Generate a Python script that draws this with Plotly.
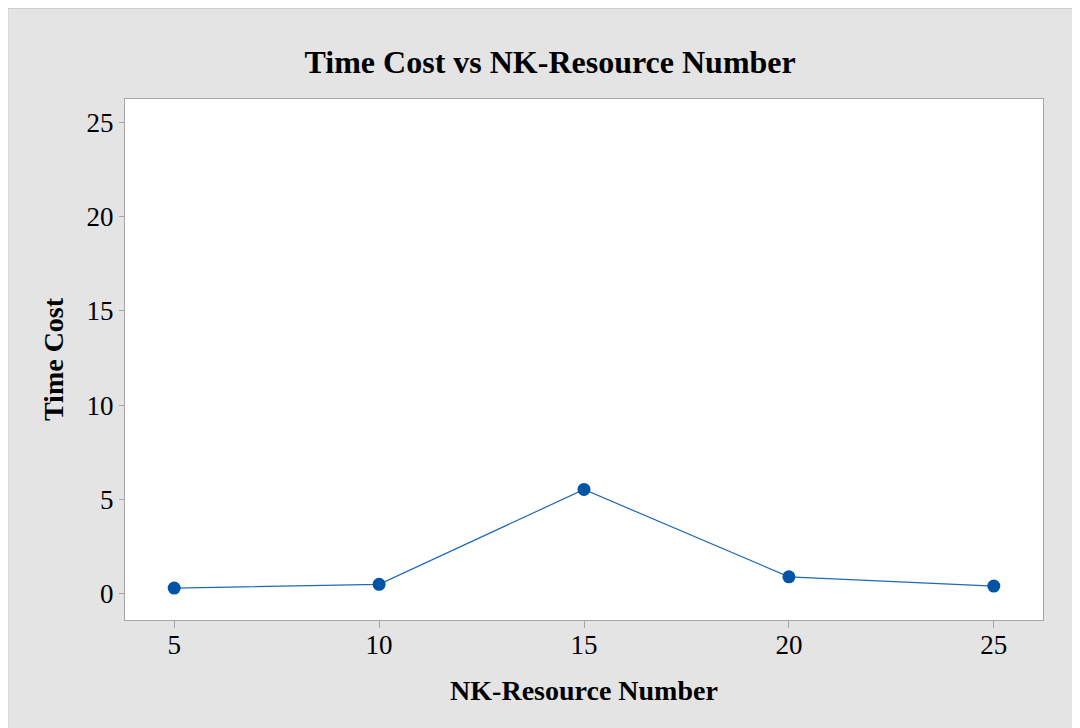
import plotly.graph_objects as go

resource_number = [5, 10, 15, 20, 25]
time_cost = [0.30, 0.50, 5.53, 0.90, 0.41]

x_ticks = [5, 10, 15, 20, 25]
y_ticks = [0, 5, 10, 15, 20, 25]

BLUE = '#0054A6'
GRAY_BG = '#e4e4e4'
AXIS_GRAY = '#a6a6a6'
SERIF = 'Liberation Serif, Times New Roman, serif'

fig = go.Figure()

fig.add_trace(go.Scatter(
    x=resource_number,
    y=time_cost,
    mode='lines+markers',
    line=dict(color='#1f68b8', width=1.2),
    marker=dict(color=BLUE, size=13),
    showlegend=False
))

fig.update_layout(
    width=1080,
    height=728,
    paper_bgcolor=GRAY_BG,
    plot_bgcolor='white',
    margin=dict(l=117, r=45, t=91, b=116),
    font=dict(family=SERIF, color='black'),
    title=dict(
        text='<b>Time Cost vs NK-Resource Number</b>',
        font=dict(size=32, family=SERIF),
        x=0.502,
        xref='container',
        xanchor='center',
        y=1 - 54 / 728,
        yanchor='middle'
    ),
    xaxis=dict(
        range=[3.80, 26.2],
        tickvals=x_ticks,
        ticks='outside',
        ticklen=7,
        tickcolor=AXIS_GRAY,
        tickfont=dict(size=27),
        ticklabelstandoff=-6,
        showgrid=False,
        zeroline=False,
        showline=True,
        linecolor=AXIS_GRAY,
        linewidth=1,
        mirror=True,
        title=dict(text='<b>NK-Resource Number</b>', font=dict(size=28), standoff=20)
    ),
    yaxis=dict(
        range=[-1.39, 26.23],
        tickvals=y_ticks,
        ticks='outside',
        ticklen=5,
        tickcolor=AXIS_GRAY,
        tickfont=dict(size=27),
        showgrid=False,
        zeroline=False,
        showline=True,
        linecolor=AXIS_GRAY,
        linewidth=1,
        mirror=True,
        title=dict(text='<b>Time Cost</b>', font=dict(size=28), standoff=14)
    ),
    shapes=[dict(
        type='rect',
        xref='paper', yref='paper',
        x0=-117 / 918, x1=(1080 - 117) / 918,
        y0=-116 / 521, y1=(612 - 0.5) / 521,
        fillcolor='rgba(0,0,0,0)',
        line=dict(color='#cccccc', width=1),
        layer='above'
    )]
)

fig.write_html('out.html')
